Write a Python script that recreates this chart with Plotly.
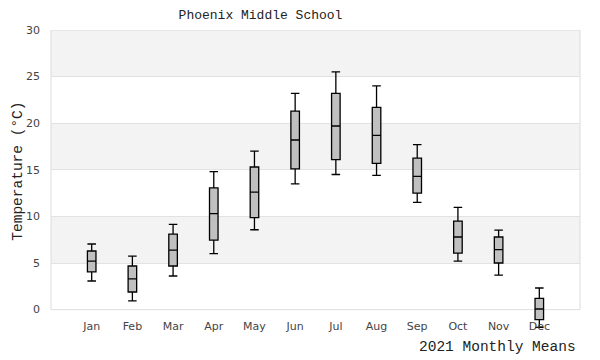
import plotly.graph_objects as go

months = ["Jan", "Feb", "Mar", "Apr", "May", "Jun", "Jul", "Aug", "Sep", "Oct", "Nov", "Dec"]
low = [3.07, 0.93, 3.61, 6.0, 8.57, 13.5, 14.5, 14.4, 11.5, 5.21, 3.71, -1.9]
q1 = [4.04, 1.89, 4.68, 7.46, 9.86, 15.1, 16.1, 15.7, 12.5, 6.07, 5.0, -1.07]
median = [5.21, 3.29, 6.39, 10.3, 12.6, 18.2, 19.7, 18.7, 14.3, 7.79, 6.43, 0.07]
q3 = [6.29, 4.68, 8.11, 13.07, 15.3, 21.3, 23.2, 21.7, 16.25, 9.5, 7.79, 1.21]
high = [7.04, 5.75, 9.14, 14.8, 17.0, 23.2, 25.5, 24.0, 17.7, 10.97, 8.54, 2.32]

y_ticks = [0, 5, 10, 15, 20, 25, 30]
bands = [(5, 10), (15, 20), (25, 30)]

mono = "Liberation Mono"

# page body has an 8px margin; figure is drawn from (8,8)
OFF = 8
W, H = 600 - OFF, 360 - OFF
plot_l, plot_r, plot_t, plot_b = 51 - OFF, 580 - OFF, 30 - OFF, 332 - OFF


def px_to_paper(x, y):
    x -= OFF
    y -= OFF
    return (x - plot_l) / (plot_r - plot_l), (plot_b - y) / (plot_b - plot_t)


fig = go.Figure()
fig.add_trace(go.Box(
    x=months, q1=q1, median=median, q3=q3, lowerfence=low, upperfence=high,
    fillcolor="#c0c0c0", line=dict(color="black", width=1.3),
    width=0.21, whiskerwidth=1, boxpoints=False, hoverinfo="skip",
))

shapes = []
for a, b in bands:
    shapes.append(dict(type="rect", xref="paper", yref="y", x0=0, x1=1, y0=a, y1=b,
                       fillcolor="#f3f3f3", line=dict(width=0), layer="below"))
shapes.append(dict(type="rect", xref="paper", yref="y", x0=0, x1=1, y0=0, y1=30,
                   fillcolor="rgba(0,0,0,0)", line=dict(color="#dcdcdc", width=1), layer="below"))

ax, ay = px_to_paper(18, 171.7)
bx, by = px_to_paper(578, 347)

fig.update_layout(
    width=W, height=H,
    margin=dict(l=plot_l, r=W - plot_r, t=plot_t, b=H - plot_b),
    plot_bgcolor="white", paper_bgcolor="white",
    showlegend=False,
    shapes=shapes,
    title=dict(text="Phoenix Middle School", font=dict(family=mono, size=13, color="#222"),
               xref="container", x=(260.5 - OFF) / W, xanchor="center",
               yref="container", y=1 - (14 - OFF) / H, yanchor="middle"),
    xaxis=dict(type="category", range=[-1, 12], showgrid=False, zeroline=False, showline=False,
               tickfont=dict(family="DejaVu Sans", size=11, color="#444"), ticks="",
               ticklabelstandoff=-14),
    yaxis=dict(range=[-2.4, 30], tickvals=y_ticks, showgrid=True, gridcolor="#e2e2e2", gridwidth=1,
               zeroline=False, showline=False, ticks="",
               tickfont=dict(family="DejaVu Sans", size=11, color="#444"), ticklabelstandoff=10),
    annotations=[
        dict(text="Temperature (°C)", xref="paper", yref="paper", x=ax, y=ay,
             showarrow=False, textangle=-90, font=dict(family=mono, size=14.5, color="#222"),
             xanchor="center", yanchor="middle"),
        dict(text="2021 Monthly Means", xref="paper", yref="paper", x=bx, y=by,
             showarrow=False, font=dict(family=mono, size=14.5, color="#222"),
             xanchor="right", yanchor="middle"),
    ],
)

fig.write_html("out.html")
